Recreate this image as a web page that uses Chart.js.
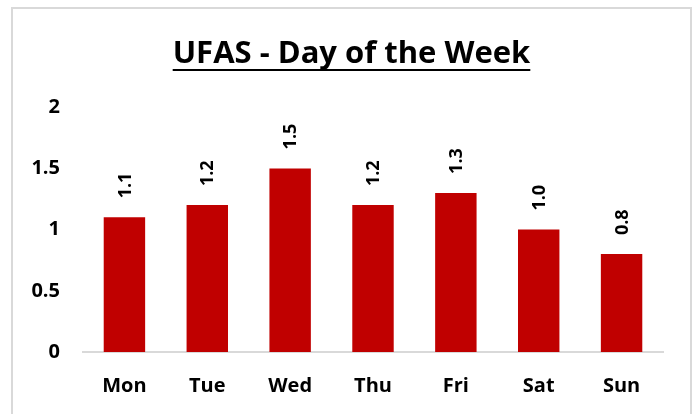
<!DOCTYPE html>
<html>
<head>
<meta charset="utf-8">
<script src="https://cdn.jsdelivr.net/npm/chart.js@4.4.1/dist/chart.umd.min.js"></script>
<style>
    body { margin: 0; background: #fff; }
    #marco { position: absolute; left: 11px; top: 7px; width: 681px; height: 430px; border: 2px solid #d9d9d9; box-sizing: border-box; }
    #caixa { position: absolute; left: 0; top: 0; width: 696px; height: 414px; }
</style>
</head>
<body>
<div id="marco"></div>
<div id="caixa"><canvas id="graficoDias" width="696" height="414"></canvas></div>
<script>
    // dados do grafico
    const dias = ['Mon', 'Tue', 'Wed', 'Thu', 'Fri', 'Sat', 'Sun'];
    const valores = [1.1, 1.2, 1.5, 1.2, 1.3, 1.0, 0.8];
    const marcasY = [0, 0.5, 1, 1.5, 2];

    const fonte = "'Open Sans', Lato, sans-serif";

    // rotulos verticais em cima das barras
    const rotulosBarras = {
        id: 'rotulosBarras',
        afterDatasetsDraw(chart) {
            const ctx = chart.ctx;
            const meta = chart.getDatasetMeta(0);
            ctx.save();
            ctx.fillStyle = '#000';
            ctx.font = 'bold 18px ' + fonte;
            ctx.textAlign = 'left';
            ctx.textBaseline = 'middle';
            meta.data.forEach(function(barra, i) {
                ctx.save();
                ctx.translate(barra.x + 1, barra.y - 19);
                ctx.rotate(-Math.PI / 2);
                ctx.fillText(valores[i].toFixed(1), 0, 0);
                ctx.restore();
            });
            ctx.restore();
        }
    };

    // titulo centrado na moldura + sublinhado
    const sublinhado = {
        id: 'sublinhado',
        afterLayout(chart) {
            const t = chart.titleBlock;
            if (!t) return;
            t.left += 10;
            t.right += 10;
        },
        afterDraw(chart) {
            const t = chart.titleBlock;
            if (!t) return;
            const ctx = chart.ctx;
            ctx.save();
            ctx.font = 'bold 31px ' + fonte;
            const w = ctx.measureText(chart.options.plugins.title.text).width;
            const cx = (t.left + t.right) / 2;
            const cy = 70;
            ctx.strokeStyle = '#000';
            ctx.lineWidth = 2;
            ctx.beginPath();
            ctx.moveTo(cx - w / 2, cy);
            ctx.lineTo(cx + w / 2, cy);
            ctx.stroke();
            ctx.restore();
        }
    };

    const ctx = document.getElementById('graficoDias').getContext('2d');

    new Chart(ctx, {
        type: 'bar',
        data: {
            labels: dias,
            datasets: [{
                label: 'UFAS',
                data: valores,
                backgroundColor: '#C00000',
                barPercentage: 0.5,
                categoryPercentage: 1.0
            }]
        },
        options: {
            responsive: false,
            animation: false,
            layout: {
                padding: { left: 20, right: 33, top: 0, bottom: 0 }
            },
            plugins: {
                legend: { display: false },
                tooltip: { enabled: false },
                title: {
                    display: true,
                    text: 'UFAS - Day of the Week',
                    color: '#000',
                    font: { family: fonte, size: 31, weight: 'bold', lineHeight: 1.2 },
                    padding: { top: 36, bottom: 34 }
                }
            },
            scales: {
                x: {
                    grid: { display: false, drawTicks: false },
                    border: { display: true, color: '#d9d9d9', width: 2 },
                    ticks: {
                        color: '#000',
                        padding: 22,
                        font: { family: fonte, size: 20, weight: 'bold' }
                    },
                    afterFit: function(escala) { escala.height = 62; }
                },
                y: {
                    min: 0,
                    max: 2,
                    grid: { display: false, drawTicks: false },
                    border: { display: false },
                    afterBuildTicks: function(escala) {
                        escala.ticks = marcasY.map(function(v) { return { value: v }; });
                    },
                    ticks: {
                        color: '#000',
                        padding: 23,
                        font: { family: fonte, size: 20, weight: 'bold' },
                        callback: function(v) { return String(v); }
                    },
                    afterFit: function(escala) { escala.width = 63; }
                }
            }
        },
        plugins: [rotulosBarras, sublinhado]
    });
</script>
</body>
</html>
